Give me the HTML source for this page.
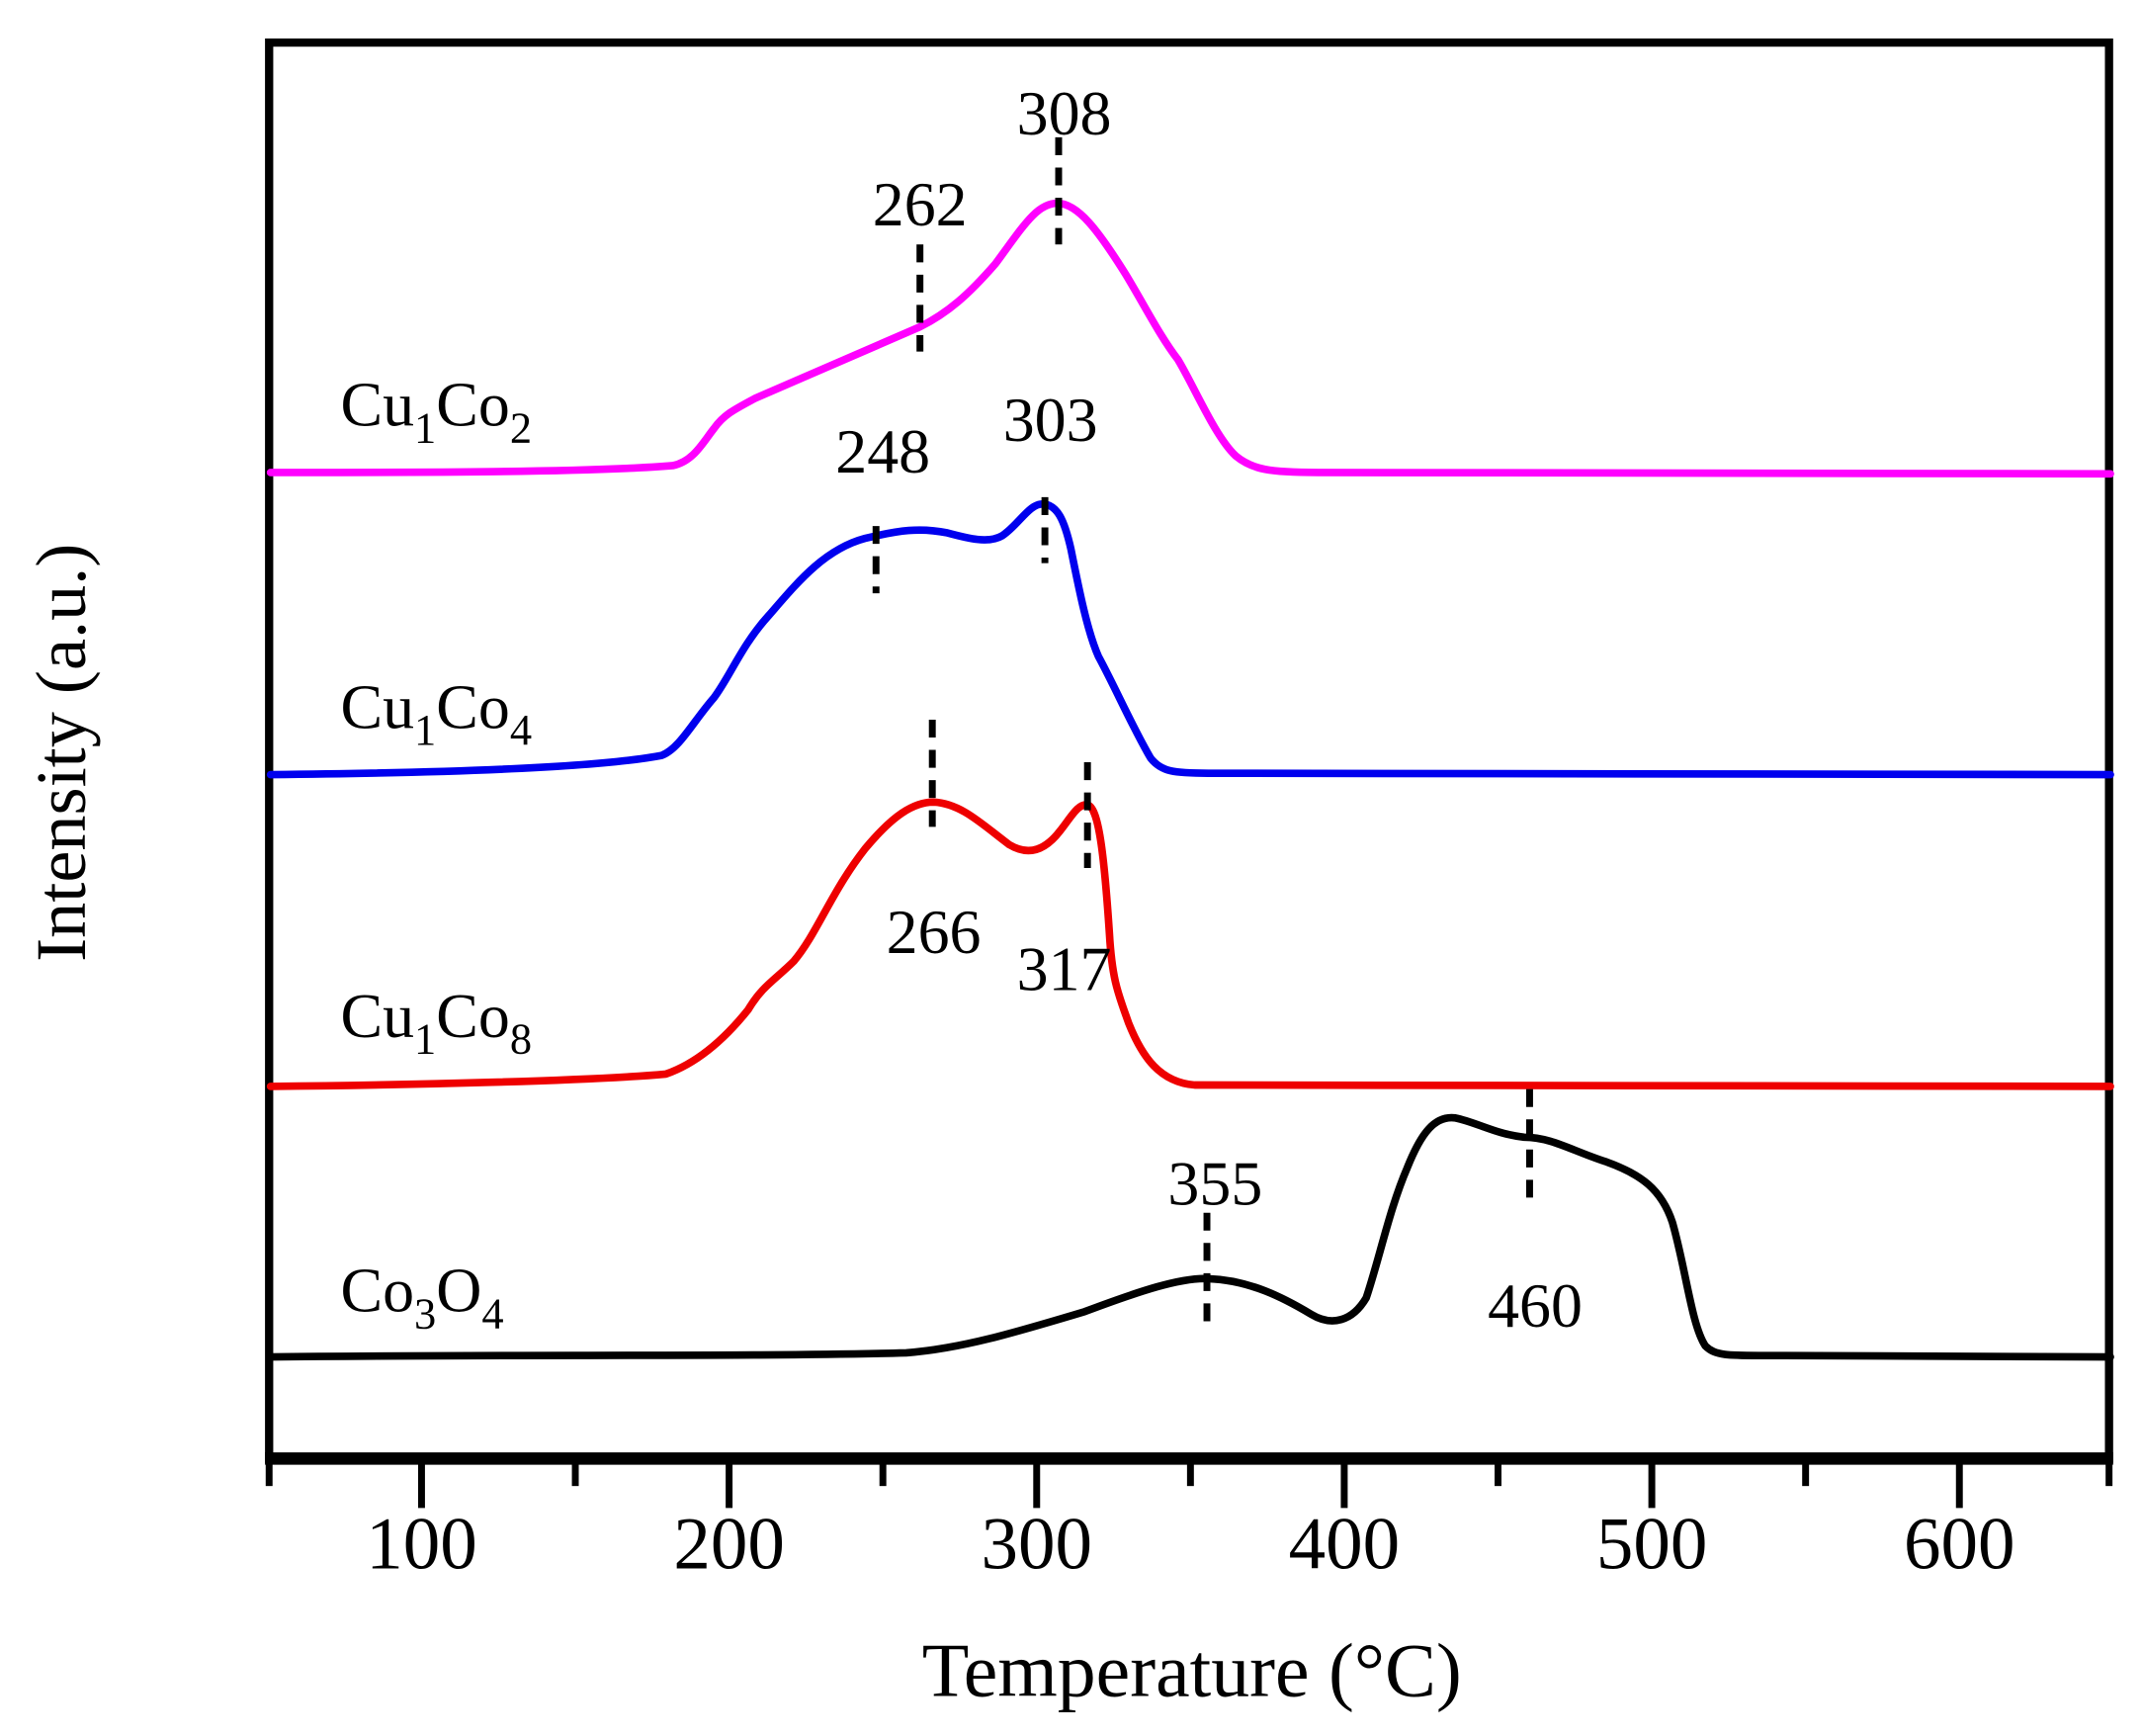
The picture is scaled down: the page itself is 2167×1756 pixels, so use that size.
<!DOCTYPE html>
<html><head><meta charset="utf-8"><style>html,body{margin:0;padding:0;background:#fff}svg{display:block}</style></head>
<body>
<svg width="2167" height="1756" viewBox="0 0 1560 1264" preserveAspectRatio="none" xmlns="http://www.w3.org/2000/svg" font-family="Liberation Serif, serif">
<rect x="0" y="0" width="1560" height="1264" fill="#fff"/>
<rect x="196" y="31" width="1340" height="1031" fill="none" stroke="#000" stroke-width="6"/>
<line x1="193" y1="1062" x2="1539" y2="1062" stroke="#000" stroke-width="9"/>
<g stroke="#000" stroke-width="5">
<line x1="196" y1="1064" x2="196" y2="1082"/>
<line x1="307" y1="1064" x2="307" y2="1098"/>
<line x1="419" y1="1064" x2="419" y2="1082"/>
<line x1="531" y1="1064" x2="531" y2="1098"/>
<line x1="643" y1="1064" x2="643" y2="1082"/>
<line x1="755" y1="1064" x2="755" y2="1098"/>
<line x1="867" y1="1064" x2="867" y2="1082"/>
<line x1="979" y1="1064" x2="979" y2="1098"/>
<line x1="1091" y1="1064" x2="1091" y2="1082"/>
<line x1="1203" y1="1064" x2="1203" y2="1098"/>
<line x1="1315" y1="1064" x2="1315" y2="1082"/>
<line x1="1427" y1="1064" x2="1427" y2="1098"/>
<line x1="1536" y1="1064" x2="1536" y2="1082"/>
</g>
<g font-size="54" text-anchor="middle">
<text x="307" y="1142">100</text><text x="531" y="1142">200</text><text x="755" y="1142">300</text>
<text x="979" y="1142">400</text><text x="1203" y="1142">500</text><text x="1427" y="1142">600</text>
</g>
<text x="868" y="1235" font-size="56" text-anchor="middle">Temperature (°C)</text>
<text transform="translate(62,548) rotate(-90)" font-size="52" text-anchor="middle">Intensity (a.u.)</text>
<g fill="none" stroke-width="5.5" stroke-linejoin="round" stroke-linecap="round">
<path stroke="#ff00ff" d="M197,344 C300,344 430,344 490,339 C505,336 512,322 520,312 C527,302 535,298 550,290 L670,238 C690,228 705,215 725,192 C745,165 755,148 770,148 C785,148 800,168 820,200 C835,225 845,245 858,262 C870,282 885,318 900,332 C912,342 925,344 960,344 L1537,345"/>
<path stroke="#0000ee" d="M197,564 C300,563 430,560 482,550 C495,545 505,525 520,508 C532,492 540,470 560,448 C580,425 600,400 630,392 C655,386 670,384 690,388 C705,392 720,396 730,390 C742,382 750,366 760,367 C770,368 775,378 780,400 C786,430 792,460 800,478 C812,500 825,530 838,552 C846,562 855,563 880,563 L1537,564"/>
<path stroke="#ee0000" d="M197,791 C300,790 430,787 485,782 C505,775 525,760 545,735 C555,718 565,713 578,700 C595,680 605,650 630,618 C650,594 665,584 680,584 C700,585 715,600 735,615 C750,624 762,618 772,605 C780,595 785,585 792,586 C800,588 804,620 808,680 C810,715 815,725 822,745 C832,770 845,788 870,790 L1537,791"/>
<path stroke="#000" d="M197,988 C350,986 560,988 660,985 C700,982 740,970 790,955 C830,940 860,930 880,931 C910,932 935,945 955,957 C970,966 985,962 995,945 C1005,915 1012,880 1025,850 C1035,825 1045,812 1060,814 C1075,817 1090,826 1110,828 C1130,828 1145,838 1170,846 C1195,855 1210,866 1218,890 C1228,925 1232,965 1242,980 C1250,988 1260,987 1300,987 L1537,988"/>
</g>
<g stroke="#000" stroke-width="5" stroke-dasharray="13,9">
<line x1="771" y1="100" x2="771" y2="178"/>
<line x1="670" y1="178" x2="670" y2="256"/>
<line x1="638" y1="383" x2="638" y2="432"/>
<line x1="761" y1="362" x2="761" y2="410"/>
<line x1="679" y1="524" x2="679" y2="602"/>
<line x1="792" y1="555" x2="792" y2="632"/>
<line x1="879" y1="883" x2="879" y2="962"/>
<line x1="1114" y1="793" x2="1114" y2="872"/>
</g>
<g font-size="46" text-anchor="middle">
<text x="775" y="98">308</text><text x="670" y="164">262</text>
<text x="643" y="344">248</text><text x="765" y="321">303</text>
<text x="680" y="694">266</text><text x="775" y="721">317</text>
<text x="885" y="877">355</text><text x="1118" y="966">460</text>
</g>
<g font-size="46">
<text x="248" y="310">Cu<tspan font-size="32" dy="12">1</tspan><tspan dy="-12">Co</tspan><tspan font-size="32" dy="12">2</tspan></text>
<text x="248" y="530">Cu<tspan font-size="32" dy="12">1</tspan><tspan dy="-12">Co</tspan><tspan font-size="32" dy="12">4</tspan></text>
<text x="248" y="755">Cu<tspan font-size="32" dy="12">1</tspan><tspan dy="-12">Co</tspan><tspan font-size="32" dy="12">8</tspan></text>
<text x="248" y="955">Co<tspan font-size="32" dy="12">3</tspan><tspan dy="-12">O</tspan><tspan font-size="32" dy="12">4</tspan></text>
</g>
</svg>
</body></html>
